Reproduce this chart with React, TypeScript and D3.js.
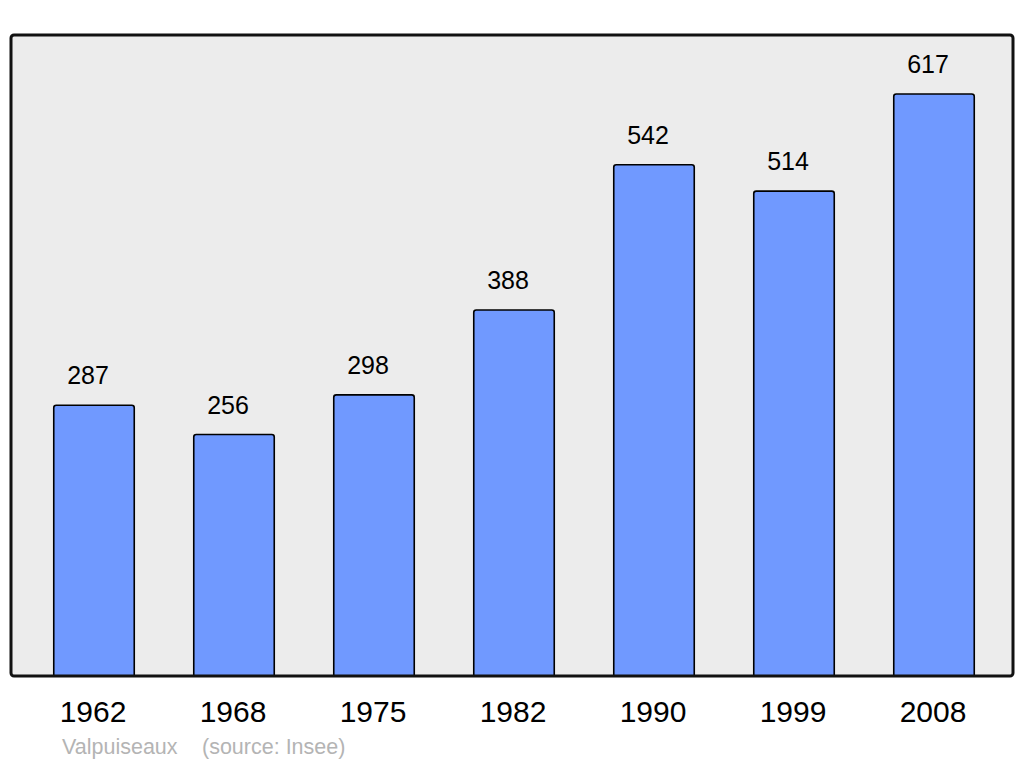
import React from "react";
import * as d3 from "d3";

const years = ["1962", "1968", "1975", "1982", "1990", "1999", "2008"];
const population = [287, 256, 298, 388, 542, 514, 617];
const townName = "Valpuiseaux";
const sourceText = "(source: Insee)";

export default function App() {
  const W = 1024, H = 765;
  const panel = { x: 11, y: 35, w: 1002, h: 641 };
  const base = panel.y + panel.h;
  const x = d3.scalePoint<string>().domain(years).range([94, 934]);
  const bw = x.step() * 0.575;
  const y = d3.scaleLinear().domain([0, 679.5]).range([base, panel.y]);
  const font = "'Liberation Sans', Arial, sans-serif";
  return (
    <svg width={W} height={H} style={{ position: "absolute", left: 0, top: 0 }} fontFamily={font}>
      <rect x={0} y={0} width={W} height={H} fill="#ffffff" />
      <rect x={panel.x} y={panel.y} width={panel.w} height={panel.h} rx={3} fill="#ececec" stroke="none" />
      {years.map((yr, i) => {
        const cx = x(yr)!;
        const top = y(population[i]);
        const left = cx - bw / 2;
        const r = 2.5;
        const d = `M${left},${base} L${left},${top + r} Q${left},${top} ${left + r},${top} L${left + bw - r},${top} Q${left + bw},${top} ${left + bw},${top + r} L${left + bw},${base}`;
        return (
          <g key={yr}>
            <path d={d} fill="#7099ff" stroke="#000" strokeWidth={1.6} />
            <text x={cx - 6} y={top - 21} textAnchor="middle" fontSize={25} fill="#000">{population[i]}</text>
            <text x={cx - 1} y={722} textAnchor="middle" fontSize={30} fill="#000">{yr}</text>
          </g>
        );
      })}
      <rect x={panel.x} y={panel.y} width={panel.w} height={panel.h} rx={3} fill="none" stroke="#111" strokeWidth={3} />
      <text x={62} y={754} fontSize={21.5} fill="#b4b4b4">{townName}</text>
      <text x={202} y={754} fontSize={21.5} fill="#b4b4b4">{sourceText}</text>
    </svg>
  );
}
